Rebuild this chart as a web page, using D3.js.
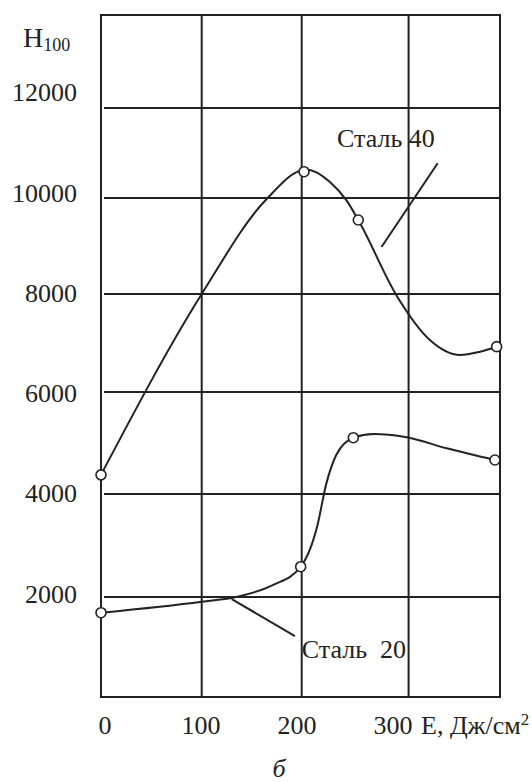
<!DOCTYPE html>
<meta charset="utf-8">
<title>H100 vs E</title>
<style>
    body {
        margin: 0;
        background: #fff;
    }

    svg {
        display: block;
        font-family: "Liberation Serif", "Times New Roman", serif;
    }

    .frame,
    .grid {
        fill: none;
        stroke: #222;
        stroke-width: 2px;
    }

    .curve {
        fill: none;
        stroke: #222;
        stroke-width: 2px;
    }

    .marker {
        fill: #fff;
        stroke: #222;
        stroke-width: 1.6px;
    }

    .leader {
        stroke: #222;
        stroke-width: 2px;
    }

    text {
        fill: #222;
        font-size: 26px;
    }
</style>

<body>
    <svg id="chart"></svg>
</body>

<script src="https://d3js.org/d3.v7.min.js"></script>
<script>
    // tick labels
    var xTicks = [0, 100, 200, 300];
    var yTicks = [2000, 4000, 6000, 8000, 10000, 12000];

    // grid lines as they sit in the figure (the drawn grid is a bit uneven)
    var xGrid = [99.7, 198.7, 304.5];
    var yGrid = [1994, 4048, 6082, 8036, 9951, 11745];

    // Сталь 40: traced curve and measured points
    var steel40Curve = [[0, 4430], [99.7, 8036], [164, 9931], [203, 10520],
        [226.7, 10270], [243.2, 9897], [254.7, 9512], [292.7, 8003],
        [325.6, 7119], [355.4, 6820], [375.2, 6886], [391.7, 6986]];
    var steel40Points = [[0, 4430], [201, 10475], [254.7, 9512], [391.7, 6986]];

    // Сталь 20: traced curve and measured points
    var steel20Curve = [[0, 1681], [99.7, 1900], [135, 2000], [170, 2230],
        [197.7, 2598], [214, 3400], [223, 4250], [233, 4830], [249.8, 5171],
        [269.6, 5245], [302.6, 5179], [342.2, 4959], [390, 4726]];
    var steel20Points = [[0, 1681], [197.7, 2598], [249.8, 5171], [390, 4726]];

    // curve labels and their leader lines
    var labels = [
        { text: "Сталь 40", at: [233.6, 10963], leader: [[333.3, 10643], [277.7, 8974]] },
        { text: "Сталь\u00a0\u00a020", at: [198.7, 778], leader: [[129.4, 1954], [192, 1216]] }
    ];

    var width = 532,
        height = 782;
    var frame = { left: 101, right: 500, top: 15, bottom: 697 };

    var x = d3.scaleLinear().domain([0, 395]).range([frame.left, frame.right]);
    var y = d3.scaleLinear().domain([0, 13600]).range([frame.bottom, frame.top]);

    var svg = d3.select("#chart")
        .attr("width", width)
        .attr("height", height);

    // horizontal grid lines (start a little off the axis, like the original)
    svg.selectAll("line.hgrid")
        .data(yGrid)
        .enter().append("line")
        .attr("class", "grid hgrid")
        .attr("x1", frame.left + 3)
        .attr("x2", frame.right)
        .attr("y1", d => y(d))
        .attr("y2", d => y(d));

    // vertical grid lines
    svg.selectAll("line.vgrid")
        .data(xGrid)
        .enter().append("line")
        .attr("class", "grid vgrid")
        .attr("x1", d => x(d))
        .attr("x2", d => x(d))
        .attr("y1", frame.top)
        .attr("y2", frame.bottom);

    svg.append("rect")
        .attr("class", "frame")
        .attr("x", frame.left)
        .attr("y", frame.top)
        .attr("width", frame.right - frame.left)
        .attr("height", frame.bottom - frame.top);

    // y tick labels
    svg.selectAll("text.ytick")
        .data(yTicks)
        .enter().append("text")
        .attr("class", "ytick")
        .attr("text-anchor", "end")
        .attr("x", 77)
        .attr("y", d => y(d) + 6)
        .text(d => d);

    // x tick labels (hand lettered, they drift left of their lines)
    svg.selectAll("text.xtick")
        .data(xTicks)
        .enter().append("text")
        .attr("class", "xtick")
        .attr("text-anchor", "middle")
        .attr("x", d => x(d) + 4 - d * 0.05)
        .attr("y", 734)
        .text(d => d);

    // axis titles
    var xTitle = svg.append("text")
        .attr("x", 421)
        .attr("y", 734);
    xTitle.append("tspan").text("Е, Дж/см");
    xTitle.append("tspan")
        .attr("dy", -9)
        .style("font-size", "17px")
        .text("2");

    var yTitle = svg.append("text")
        .attr("x", 23)
        .attr("y", 47)
        .style("font-size", "28px");
    yTitle.append("tspan").text("H");
    yTitle.append("tspan")
        .attr("dy", 4)
        .style("font-size", "18px")
        .text("100");

    svg.append("text")
        .attr("x", 279)
        .attr("y", 777)
        .attr("text-anchor", "middle")
        .style("font-style", "italic")
        .text("б");

    // curves
    var line = d3.line()
        .x(d => x(d[0]))
        .y(d => y(d[1]))
        .curve(d3.curveMonotoneX);

    [steel40Curve, steel20Curve].forEach(function (c) {
        svg.append("path")
            .datum(c)
            .attr("class", "curve")
            .attr("d", line);
    });

    // labels and leaders
    labels.forEach(function (l) {
        svg.append("line")
            .attr("class", "leader")
            .attr("x1", x(l.leader[0][0]))
            .attr("y1", y(l.leader[0][1]))
            .attr("x2", x(l.leader[1][0]))
            .attr("y2", y(l.leader[1][1]));
        svg.append("text")
            .attr("x", x(l.at[0]))
            .attr("y", y(l.at[1]))
            .text(l.text);
    });

    // measured points
    svg.selectAll("circle.marker")
        .data(steel40Points.concat(steel20Points))
        .enter().append("circle")
        .attr("class", "marker")
        .attr("cx", d => x(d[0]))
        .attr("cy", d => y(d[1]))
        .attr("r", 5);
</script>
